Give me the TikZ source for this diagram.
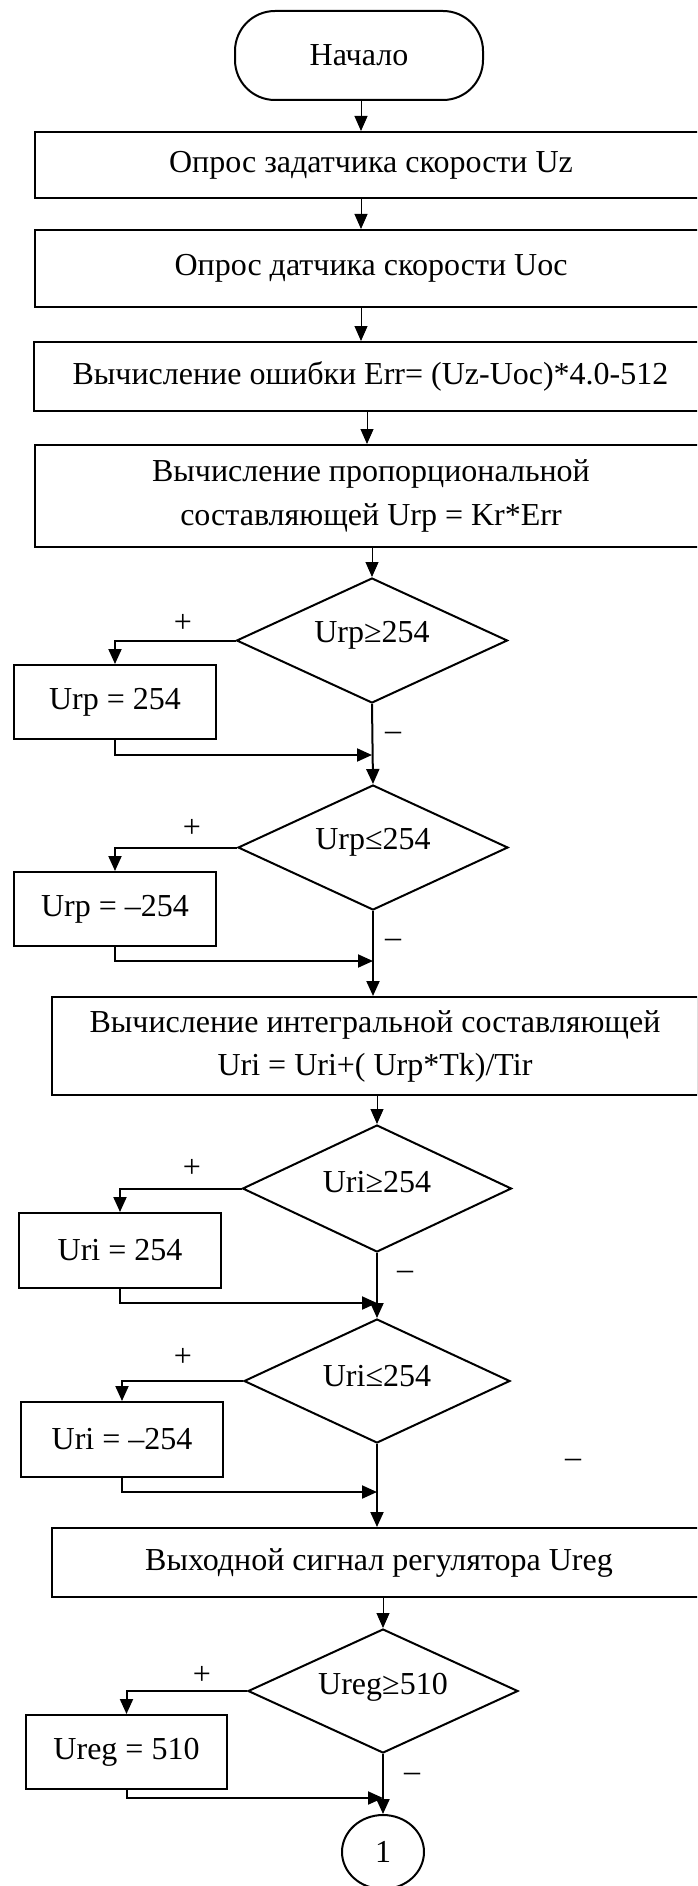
\documentclass[tikz,border=0pt]{standalone}
\usepackage{fontspec}
\setmainfont{Liberation Serif}
\usetikzlibrary{arrows.meta,shapes.geometric,calc}
\begin{document}
\begin{tikzpicture}[x=1pt,y=-1pt,
  every node/.style={font=\fontsize{32}{44}\selectfont},
  box/.style={draw,line width=2pt,rectangle,inner sep=0pt,align=center},
  dec/.style={draw,line width=2pt,diamond,inner sep=0pt},
  athin/.style={line width=1pt,-{Triangle[length=15pt,width=13pt]}},
  athick/.style={line width=2pt,-{Triangle[length=15pt,width=13pt]}},
  lbl/.style={inner sep=0pt}
]
\useasboundingbox (0,0) rectangle (697,1886);
\clip (0,0) rectangle (697,1886);

% terminator
\node[draw,line width=2pt,rounded corners=40pt,minimum width=248,minimum height=89,inner sep=0pt] (start) at (359,55.5) {Начало};

% process boxes
\node[box,minimum width=672,minimum height=66] (b1) at (371,165) {Опрос задатчика скорости Uz};
\node[box,minimum width=672,minimum height=77] (b2) at (371,268.5) {Опрос датчика скорости Uoc};
\node[box,minimum width=673,minimum height=69] (b3) at (370.5,376.5) {Вычисление ошибки Err= (Uz-Uoc)*4.0-512};
\node[box,minimum width=672,minimum height=102] (b4) at (371,496) {Вычисление пропорциональной\\составляющей Urp = Kr*Err};
\node[box,minimum width=646,minimum height=98,font=\fontsize{32}{43}\selectfont] (b5) at (375,1046) {Вычисление интегральной составляющей\\Uri = Uri+( Urp*Tk)/Tir};
\node[box,minimum width=654,minimum height=69] (b6) at (379,1562.5) {Выходной сигнал регулятора Ureg};

% decisions
\node[dec,minimum width=271,minimum height=125,label={[lbl,yshift=5pt]center:Urp≥254}] (d1) at (372,640.5) {};
\node[dec,minimum width=270,minimum height=125,label={[lbl,yshift=5pt]center:Urp≤254}] (d2) at (373,847.5) {};
\node[dec,minimum width=269,minimum height=127,label={[lbl,yshift=6pt]center:Uri≥254}] (d3) at (377,1188.5) {};
\node[dec,minimum width=266,minimum height=124,label={[lbl,yshift=5pt]center:Uri≤254}] (d4) at (377,1381) {};
\node[dec,minimum width=270,minimum height=124,label={[lbl,yshift=4pt]center:Ureg≥510}] (d5) at (383,1691) {};

% side boxes
\node[box,minimum width=202,minimum height=74] (r1) at (115,702) {Urp = 254};
\node[box,minimum width=202,minimum height=74] (r2) at (115,909) {Urp = –254};
\node[box,minimum width=202,minimum height=75] (i1) at (120,1250.5) {Uri = 254};
\node[box,minimum width=202,minimum height=75] (i2) at (122,1439.5) {Uri = –254};
\node[box,minimum width=201,minimum height=74] (g1) at (126.5,1752) {Ureg = 510};

% connector
\node[draw,line width=2pt,ellipse,minimum width=82,minimum height=74,inner sep=0pt] (c) at (383,1852) {1};

% spine coordinates
\coordinate (sx) at (361,0);
\coordinate (sx2) at (367,0);
\coordinate (m1) at (372,755);
\coordinate (m2) at (373,961);
\coordinate (m3) at (377,1303);
\coordinate (m4) at (377,1492);
\coordinate (m5) at (383,1798);

% main flow
\draw[athin] (sx |- start.south) -- (sx |- b1.north);
\draw[athin] (sx |- b1.south) -- (sx |- b2.north);
\draw[athin] (sx |- b2.south) -- (sx |- b3.north);
\draw[athin] (sx2 |- b3.south) -- (sx2 |- b4.north);
\draw[athin] (d1.north |- b4.south) -- (d1.north);
\draw[athick] (d1.south) -- (d2.north);
\draw[athick] (d2.south) -- (d2.south |- b5.north);
\draw[athin] (d3.north |- b5.south) -- (d3.north);
\draw[athick] (d3.south) -- (d4.north);
\draw[athick] (d4.south) -- (d4.south |- b6.north);
\draw[athin] (d5.north |- b6.south) -- (d5.north);
\draw[athick] (d5.south) -- (c.north);

% branches
\draw[athick] (d1.west) -| (r1.north);
\draw[athick] (r1.south) |- (m1);
\draw[athick] (d2.west) -| (r2.north);
\draw[athick] (r2.south) |- (m2);
\draw[athick] (d3.west) -| (i1.north);
\draw[athick] (i1.south) |- (m3);
\draw[athick] (d4.west) -| (i2.north);
\draw[athick] (i2.south) |- (m4);
\draw[athick] (d5.west) -| (g1.north);
\draw[athick] (g1.south) |- (m5);

% labels
\node[lbl] (p1) at (183,623) {+};
\node[lbl] (n1) at (393,736) {–};
\node[lbl] (p2) at (192,828) {+};
\node[lbl] (n2) at (393,943) {–};
\node[lbl] (p3) at (192,1168) {+};
\node[lbl] (n3) at (405,1275) {–};
\node[lbl] (p4) at (183,1357) {+};
\node[lbl] (n4) at (573,1463) {–};
\node[lbl] (p5) at (202,1675) {+};
\node[lbl] (n5) at (412,1777) {–};
\end{tikzpicture}
\end{document}
